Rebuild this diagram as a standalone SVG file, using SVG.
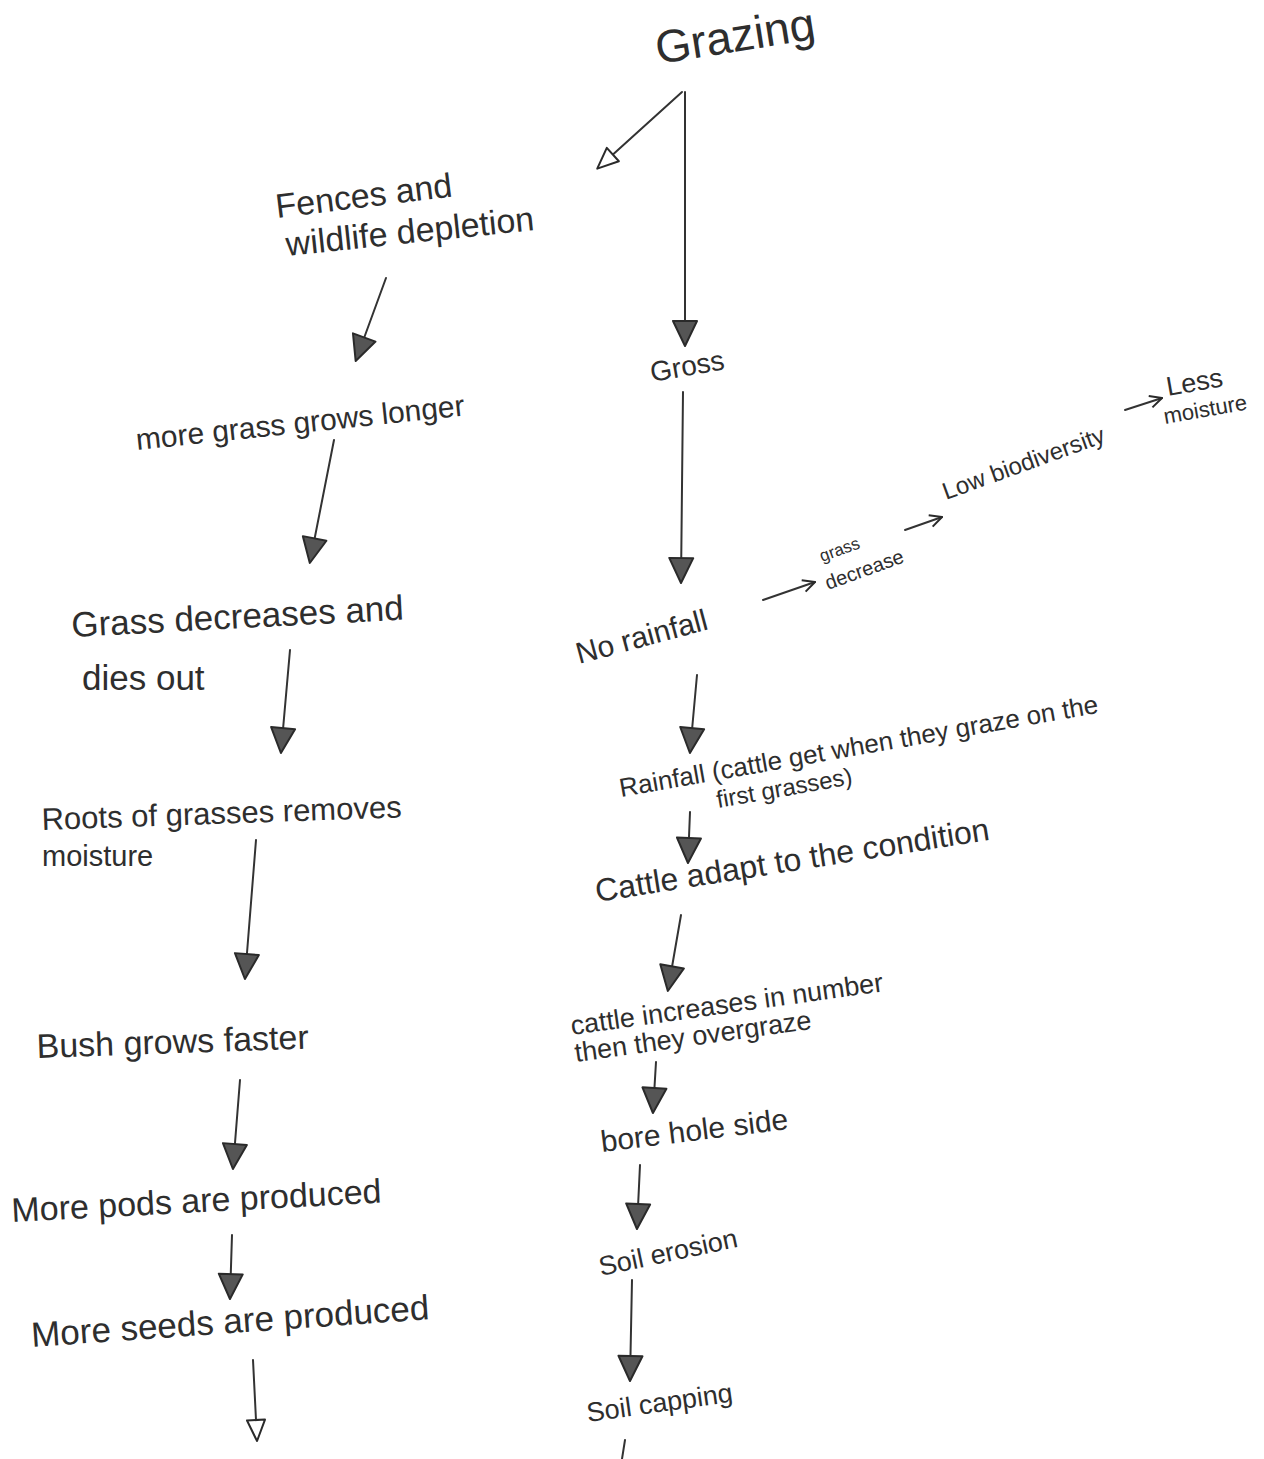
<svg xmlns="http://www.w3.org/2000/svg" width="1264" height="1459" viewBox="0 0 1264 1459">
<style>
.t{font-family:"Liberation Sans","DejaVu Sans",sans-serif;fill:#2e2e2e}
.c{stroke:#333;stroke-width:2;fill:none;stroke-linecap:round}
</style>
<defs>
<marker id="big" markerWidth="30" markerHeight="30" viewBox="0 0 30 30" refX="26" refY="15" orient="auto" markerUnits="userSpaceOnUse">
<path d="M2,3 L27,15 L2,27 Z" fill="#555" stroke="#2a2a2a" stroke-width="2" stroke-linejoin="round"/>
</marker>
<marker id="open" markerWidth="26" markerHeight="26" viewBox="0 0 26 26" refX="22" refY="13" orient="auto" markerUnits="userSpaceOnUse">
<path d="M2,4 L23,13 L2,22 Z" fill="#fff" stroke="#2a2a2a" stroke-width="2" stroke-linejoin="round"/>
</marker>
<marker id="small" markerWidth="16" markerHeight="16" viewBox="0 0 16 16" refX="14" refY="8" orient="auto" markerUnits="userSpaceOnUse">
<path d="M2,2 L14,8 L2,14" fill="none" stroke="#2a2a2a" stroke-width="2" stroke-linejoin="round"/>
</marker>
</defs>

<g id="connectors">
<path class="c" d="M682,92 L598,168" marker-end="url(#open)"/>
<path class="c" d="M685,92 L685,345" marker-end="url(#big)"/>
<path class="c" d="M386,278 L356,360" marker-end="url(#big)"/>
<path class="c" d="M683,392 L681,582" marker-end="url(#big)"/>
<path class="c" d="M334,440 L310,562" marker-end="url(#big)"/>
<path class="c" d="M763,600 L815,582" marker-end="url(#small)"/>
<path class="c" d="M905,530 L942,517" marker-end="url(#small)"/>
<path class="c" d="M1125,410 L1162,398" marker-end="url(#small)"/>
<path class="c" d="M290,650 L281,752" marker-end="url(#big)"/>
<path class="c" d="M697,675 L690,752" marker-end="url(#big)"/>
<path class="c" d="M690,812 L688,862" marker-end="url(#big)"/>
<path class="c" d="M256,840 L245,978" marker-end="url(#big)"/>
<path class="c" d="M681,915 L668,990" marker-end="url(#big)"/>
<path class="c" d="M656,1062 L653,1112" marker-end="url(#big)"/>
<path class="c" d="M240,1080 L233,1168" marker-end="url(#big)"/>
<path class="c" d="M640,1165 L637,1228" marker-end="url(#big)"/>
<path class="c" d="M232,1235 L230,1298" marker-end="url(#big)"/>
<path class="c" d="M632,1280 L630,1380" marker-end="url(#big)"/>
<path class="c" d="M253,1360 L257,1440" marker-end="url(#open)"/>
<path class="c" d="M625,1440 L622,1459"/>
</g>

<g id="grazing"><text class="t" font-size="46" transform="translate(658,64) rotate(-9)">Grazing</text></g>
<g id="fences">
<text class="t" font-size="34" transform="translate(277,218) rotate(-7)">Fences and</text>
<text class="t" font-size="34" transform="translate(287,256) rotate(-6)">wildlife depletion</text>
</g>
<g id="grass"><text class="t" font-size="28" transform="translate(652,382) rotate(-10)">Gross</text></g>
<g id="more-grass"><text class="t" font-size="30" transform="translate(137,450) rotate(-6)">more grass grows longer</text></g>
<g id="no-rainfall"><text class="t" font-size="30" transform="translate(579,664) rotate(-15)">No rainfall</text></g>
<g id="grass-decrease">
<text class="t" font-size="17" transform="translate(822,562) rotate(-20)">grass</text>
<text class="t" font-size="20" transform="translate(828,590) rotate(-20)">decrease</text>
</g>
<g id="low-biodiversity"><text class="t" font-size="24" transform="translate(946,500) rotate(-20)">Low biodiversity</text></g>
<g id="less-moisture">
<text class="t" font-size="27" transform="translate(1168,396) rotate(-10)">Less</text>
<text class="t" font-size="22" transform="translate(1165,424) rotate(-10)">moisture</text>
</g>
<g id="grass-decreases">
<text class="t" font-size="35" transform="translate(72,637) rotate(-3)">Grass decreases and</text>
<text class="t" font-size="35" transform="translate(82,690)">dies out</text>
</g>
<g id="roots">
<text class="t" font-size="31" transform="translate(42,830) rotate(-2)">Roots of grasses removes</text>
<text class="t" font-size="29" transform="translate(42,866)">moisture</text>
</g>
<g id="rainfall">
<text class="t" font-size="26" transform="translate(621,797) rotate(-10)">Rainfall (cattle get when they graze on the</text>
<text class="t" font-size="24" transform="translate(718,808) rotate(-10)">first grasses)</text>
</g>
<g id="cattle-adapt"><text class="t" font-size="32" transform="translate(597,902) rotate(-9)">Cattle adapt to the condition</text></g>
<g id="bush"><text class="t" font-size="34" transform="translate(37,1058) rotate(-2)">Bush grows faster</text></g>
<g id="cattle-increases">
<text class="t" font-size="27" transform="translate(572,1035) rotate(-8)">cattle increases in number</text>
<text class="t" font-size="27" transform="translate(576,1062) rotate(-8)">then they overgraze</text>
</g>
<g id="bore-hole"><text class="t" font-size="30" transform="translate(602,1152) rotate(-7)">bore hole side</text></g>
<g id="pods"><text class="t" font-size="34" transform="translate(12,1222) rotate(-3)">More pods are produced</text></g>
<g id="soil-erosion"><text class="t" font-size="27" transform="translate(601,1276) rotate(-12)">Soil erosion</text></g>
<g id="seeds"><text class="t" font-size="35" transform="translate(32,1347) rotate(-4)">More seeds are produced</text></g>
<g id="soil-capping"><text class="t" font-size="27" transform="translate(588,1422) rotate(-8)">Soil capping</text></g>
</svg>
